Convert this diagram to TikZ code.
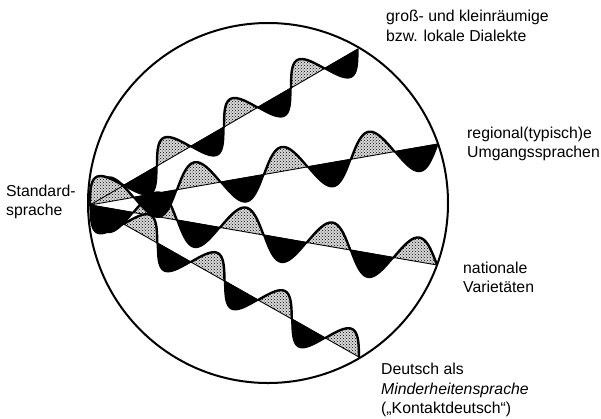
\documentclass[tikz,border=0pt]{standalone}
\usepackage{fontspec}
\setmainfont{Liberation Sans}
\usetikzlibrary{patterns}
\tikzset{
  lbl/.style={font=\fontsize{15.8}{19.5}\selectfont, align=left, inner sep=0pt, anchor=west},
  stip/.style={fill=black!15, postaction={pattern=crosshatch dots, pattern color=black}},
  stipedge/.style={line width=2.4pt, line join=round, line cap=round},
  blk/.style={fill=black, draw=black, line width=1.2pt, line join=round},
  base/.style={line width=0.9pt},
  rim/.style={line width=2pt},
}
% #1,#2 start; #3,#4 end; #5 amplitude; #6 sign (-1: first lobe above)
\newcommand\wavebranch[6]{%
  \pgfmathsetmacro\wdx{#3-#1}%
  \pgfmathsetmacro\wdy{#4-#2}%
  \pgfmathsetmacro\wL{100*sqrt((\wdx/100)*(\wdx/100)+(\wdy/100)*(\wdy/100))}%
  \pgfmathsetmacro\wnx{-\wdy/\wL*#5*(#6)}%
  \pgfmathsetmacro\wny{\wdx/\wL*#5*(#6)}%
  \foreach \j in {0,...,7}{%
    \pgfmathsetmacro\wta{\j/8}%
    \pgfmathsetmacro\wtb{(\j+1)/8}%
    \pgfmathtruncatemacro\wkind{mod(\j+(1+(#6))/2,2)}%
    \ifnum\wkind=0
      \path[stip] plot[domain=\wta:\wtb, samples=30, variable=\t]
        ({#1+\t*\wdx+sin(1440*\t)*\wnx},{#2+\t*\wdy+sin(1440*\t)*\wny}) -- cycle;
      \draw[stipedge] plot[domain=\wta:\wtb, samples=30, variable=\t]
        ({#1+\t*\wdx+sin(1440*\t)*\wnx},{#2+\t*\wdy+sin(1440*\t)*\wny});
    \else
      \path[blk] plot[domain=\wta:\wtb, samples=30, variable=\t]
        ({#1+\t*\wdx+sin(1440*\t)*\wnx},{#2+\t*\wdy+sin(1440*\t)*\wny}) -- cycle;
    \fi
  }%
  \draw[base] (#1,#2) -- (#3,#4);%
}
\begin{document}
\begin{tikzpicture}[x=1pt,y=-1pt]
\useasboundingbox (0,0) rectangle (601,418);
\coordinate (O) at (90,205);
\coordinate (C) at (268,203);
% waves (outer branches drawn last)
\wavebranch{90}{205}{437}{265}{24}{1}
\wavebranch{90}{205}{359}{357}{21}{1}
\wavebranch{90}{205}{438}{144}{24}{-1}
\wavebranch{90}{205}{358}{49}{21}{-1}
\draw[rim] (C) circle[radius=180pt];
\node[lbl] (dial) at (386,26) {groß- und kleinräumige\\bzw. lokale Dialekte};
\node[lbl] (umg) at (467,144) {regional(typisch)e\\Umgangssprachen};
\node[lbl] (std) at (6,202) {Standard-\\sprache};
\node[lbl] (nat) at (463,277.5) {nationale\\Varietäten};
\node[lbl] (min) at (381,390) {Deutsch als\\\textit{Minderheitensprache}\\(„Kontaktdeutsch“)};
\end{tikzpicture}
\end{document}
